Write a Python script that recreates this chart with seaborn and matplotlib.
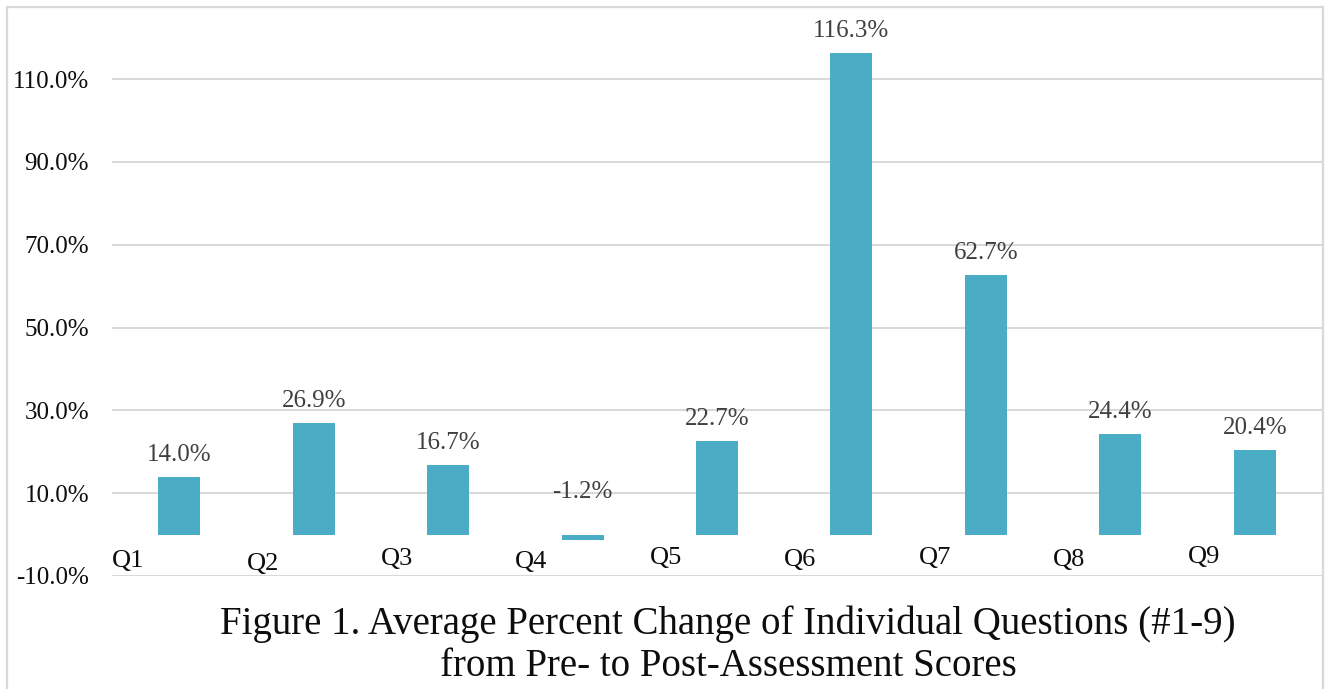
import matplotlib
matplotlib.use("Agg")
import matplotlib.pyplot as plt
from matplotlib.patches import Rectangle
from matplotlib.ticker import FuncFormatter
import seaborn as sns
import pandas as pd

# Average percent change per question, pre- to post-assessment
questions = ["Q1", "Q2", "Q3", "Q4", "Q5", "Q6", "Q7", "Q8", "Q9"]
pct_change = [14.0, 26.9, 16.7, -1.2, 22.7, 116.3, 62.7, 24.4, 20.4]
y_ticks = [-10, 10, 30, 50, 70, 90, 110]
title_lines = ["Figure 1. Average Percent Change of Individual Questions (#1-9)",
               "from Pre- to Post-Assessment Scores"]

df = pd.DataFrame({"question": questions, "change": pct_change})

sns.set_theme(style="white")
plt.rcParams["font.family"] = ["Liberation Serif", "DejaVu Serif"]

W, H = 1329, 689
fig = plt.figure(figsize=(W / 100, H / 100), dpi=100)
fig.patch.set_facecolor("white")

ax = fig.add_axes([112 / W, 113 / H, (1322 - 112) / W, (576 - 16.9) / H])

bar_color = "#4BACC6"
sns.barplot(data=df, x="question", y="change", order=questions,
            color=bar_color, width=0.312, saturation=1, linewidth=0, ax=ax)

ax.set_xlim(-0.5, len(questions) - 0.5)
ax.set_ylim(-10, 125)
ax.set_yticks(y_ticks)
ax.yaxis.set_major_formatter(FuncFormatter(lambda v, _: f"{v:.1f}%"))
ax.tick_params(axis="y", length=0, pad=16.5, labelsize=18, labelcolor="#0d0d0d")
ax.set_xticks([])
ax.set_xlabel("")
ax.set_ylabel("")
ax.grid(axis="y", color="#D9D9D9", linewidth=1.45)
ax.set_axisbelow(True)
for s in ax.spines.values():
    s.set_visible(False)

# value labels above each bar
for i, v in enumerate(pct_change):
    off = 11.5 if v >= 0 else 26.5
    ax.annotate(f"{v:.1f}%", xy=(i, max(v, 0)), xytext=(0, off),
                textcoords="offset points", ha="center", va="baseline",
                fontsize=18, color="#404040")

# category labels sit low and to the left of each bar
label_drop = [0, 3, -2, 1, -3, -1, -3, -1, -4]
for i, q in enumerate(questions):
    ax.annotate(q, xy=(i - 0.5, 0), xytext=(0, -23.5 - label_drop[i] / 1.389),
                textcoords="offset points", ha="left", va="baseline",
                fontsize=19, color="#0d0d0d")

# caption under the plot
fig.text(728 / W, 1 - 634 / H, title_lines[0], ha="center", va="baseline",
         fontsize=28, color="#0d0d0d")
fig.text(728 / W, 1 - 676 / H, title_lines[1], ha="center", va="baseline",
         fontsize=28, color="#0d0d0d")

# light frame around the chart
fig.add_artist(Rectangle((6.5 / W, -0.05), (1322.5 - 6.5) / W, 1 - 7 / H + 0.05,
                         transform=fig.transFigure, fill=False,
                         edgecolor="#D9D9D9", linewidth=1.6, clip_on=False))

fig.savefig("out.png", dpi=100, facecolor="white")
